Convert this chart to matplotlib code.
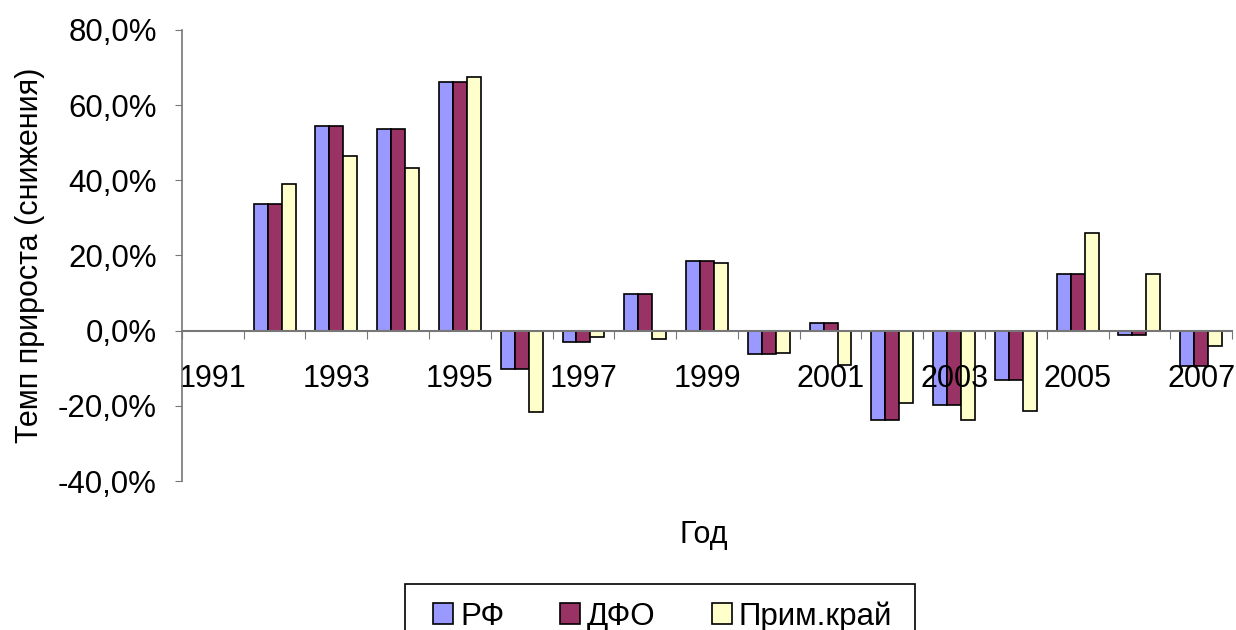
import numpy as np
import matplotlib.pyplot as plt
from matplotlib.patches import Rectangle
from matplotlib.ticker import FuncFormatter, FixedLocator

plt.rcParams['font.family'] = ['Liberation Sans', 'DejaVu Sans']

years = list(range(1991, 2008))
# темп прироста, %
rf = [0.0, 33.8, 54.4, 53.7, 66.2, -10.2, -2.9, 9.8, 18.5, -6.1, 2.0, -23.8, -19.9, -13.2, 15.0, -1.2, -9.4]
dfo = [0.0, 33.8, 54.4, 53.7, 66.2, -10.2, -2.9, 9.8, 18.5, -6.1, 2.0, -23.8, -19.9, -13.2, 15.0, -1.2, -9.4]
prim = [0.0, 39.0, 46.5, 43.3, 67.6, -21.7, -1.6, -2.2, 18.1, -5.9, -9.1, -19.2, -23.8, -21.3, 26.0, 15.0, -4.2]

series = [('РФ', rf, '#9999FF'), ('ДФО', dfo, '#993366'), ('Прим.край', prim, '#FFFFCC')]

fig = plt.figure(figsize=(12.36, 6.30), dpi=100)
ax = fig.add_axes([0.1472, 0.2365, 0.8496, 0.7159])

x = np.arange(len(years))
w = 0.226
for k, (name, vals, col) in enumerate(series):
    ax.bar(x + (k - 1) * w, vals, width=w, color=col, edgecolor='black', linewidth=1.2, label=name)

ax.set_xlim(-0.5, len(years) - 0.5)
ax.set_ylim(-40, 80)
ax.set_yticks(np.arange(-40, 81, 20))
ax.yaxis.set_major_formatter(FuncFormatter(lambda v, p: f'{v:.1f}%'.replace('.', ',')))
ax.tick_params(axis='y', labelsize=22.5, length=5, color='#777777', pad=13)

# категории: метки через одну, засечки на границах
ax.xaxis.set_major_locator(FixedLocator(np.arange(-0.5, len(years), 1.0)))
ax.xaxis.set_minor_locator(FixedLocator(x))
ax.set_xticklabels([])
ax.set_xticklabels([str(y) if i % 2 == 0 else '' for i, y in enumerate(years)], minor=True)
ax.tick_params(axis='x', which='major', direction='out', length=6, color='#777777')
ax.tick_params(axis='x', which='minor', length=0, labelsize=22, pad=24)

ax.spines['top'].set_visible(False)
ax.spines['right'].set_visible(False)
ax.spines['bottom'].set_position(('data', 0))
ax.spines['bottom'].set_color('#777777')
ax.spines['left'].set_color('#777777')
ax.spines['bottom'].set_linewidth(1.5)
ax.spines['left'].set_linewidth(1.2)

ax.set_ylabel('Темп прироста (снижения)', fontsize=22, labelpad=9)
fig.text(0.569, 0.15, 'Год', fontsize=22, ha='center', va='center')

# легенда без рамки + рамка отдельно
fig.legend(loc='upper left', bbox_to_anchor=(419 / 1236, 1 - 587 / 630), ncol=3,
           fontsize=22.5, frameon=False,
           handlelength=0.64, handleheight=0.64, handletextpad=0.22, columnspacing=1.8,
           borderpad=0.45, borderaxespad=0)
fig.patches.append(Rectangle((405 / 1236, -0.05), (915 - 405) / 1236, 0.05 + (630 - 584) / 630,
                             transform=fig.transFigure, fill=False, edgecolor='black', linewidth=1.2))

fig.savefig('out.png', dpi=100)
